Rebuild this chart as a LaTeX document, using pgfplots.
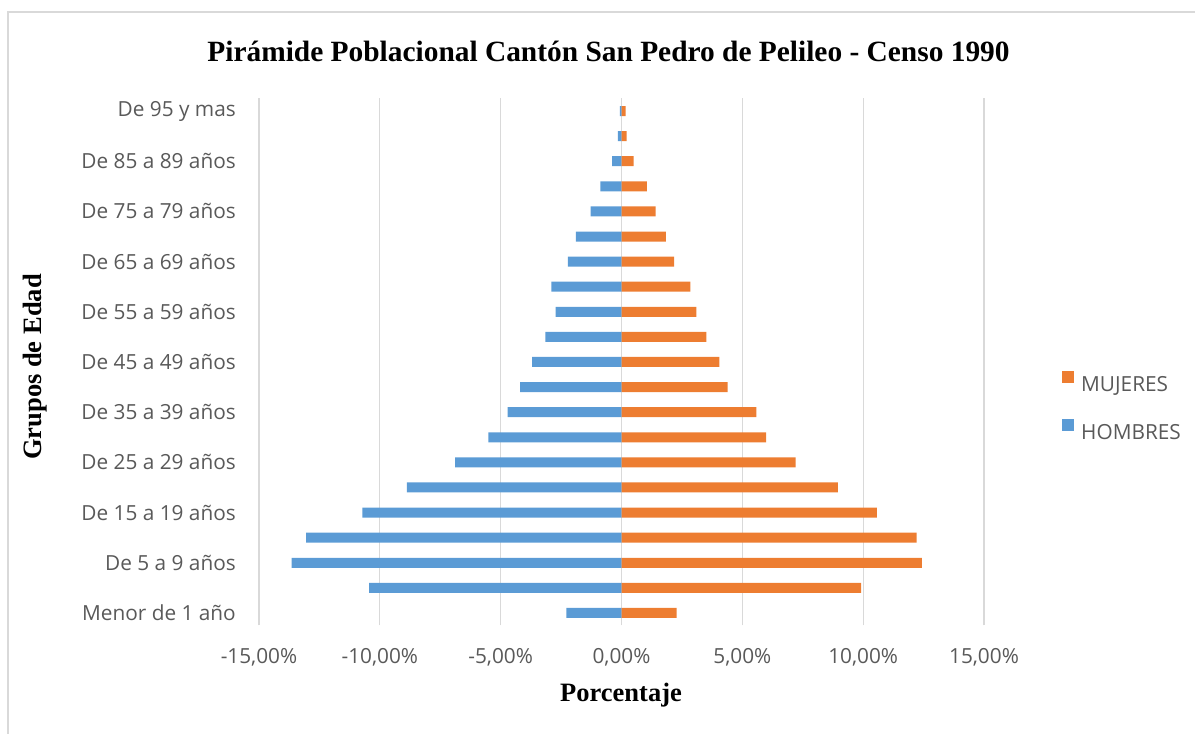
\documentclass[border=0pt]{standalone}
\usepackage{pgfplots}
\pgfplotsset{compat=1.18}
\usepackage{fontspec}
\setmainfont{Liberation Serif}
\newfontfamily\tickfont{Open Sans}
\definecolor{hblue}{HTML}{5B9BD5}
\definecolor{morange}{HTML}{ED7D31}
\definecolor{gridg}{HTML}{D9D9D9}
\definecolor{txtg}{HTML}{595959}

\pgfplotstableread{
idx hombres mujeres
0  -2.28  2.28
1  -10.44 9.92
2  -13.65 12.43
3  -13.05 12.21
4  -10.72 10.57
5  -8.88  8.95
6  -6.88  7.20
7  -5.51  5.98
8  -4.71  5.58
9  -4.20  4.39
10 -3.70  4.05
11 -3.15  3.51
12 -2.73  3.10
13 -2.90  2.85
14 -2.22  2.18
15 -1.89  1.84
16 -1.28  1.41
17 -0.87  1.05
18 -0.39  0.50
19 -0.15  0.21
20 -0.07  0.17
}\datatable

\begin{document}
\begin{tikzpicture}[x=1pt,y=1pt]
\path[use as bounding box] (0,0) rectangle (1195,734);
\draw[gridg, line width=1.3pt] (8,0) -- (8,722) -- (1195,722);
\node[font=\bfseries\fontsize{29.4}{33}\selectfont] at (608.5,683) {Pirámide Poblacional Cantón San Pedro de Pelileo - Censo 1990};
\node[font=\bfseries\fontsize{26.5}{30}\selectfont] at (621,39) {Porcentaje};
\node[font=\bfseries\fontsize{26.5}{30}\selectfont, rotate=90] at (35,367) {Grupos de Edad};
\begin{axis}[
  at={(259pt,108.5pt)}, anchor=south west,
  scale only axis, width=725pt, height=527pt,
  xbar, bar width=10pt, bar shift=0pt,
  xmin=-15, xmax=15, ymin=-0.5, ymax=20.5,
  axis line style={draw=none},
  major tick length=0pt,
  xtick={-15,-10,-5,0,5,10,15},
  xticklabels={{-15,00\%},{-10,00\%},{-5,00\%},{0,00\%},{5,00\%},{10,00\%},{15,00\%}},
  ytick={0,2,...,20},
  yticklabels={Menor de 1 año, De 5 a 9 años, De 15 a 19 años, De 25 a 29 años, De 35 a 39 años, De 45 a 49 años, De 55 a 59 años, De 65 a 69 años, De 75 a 79 años, De 85 a 89 años, De 95 y mas},
  xmajorgrids,
  grid style={gridg, line width=1.3pt},
  xticklabel style={font=\tickfont\fontsize{20.8}{24}\selectfont, text=txtg, inner sep=0pt, anchor=center, yshift=-32pt},
  yticklabel style={font=\tickfont\fontsize{20.8}{24}\selectfont, text=txtg, inner sep=0pt, anchor=east, xshift=-23pt},
  legend style={at={(1.1076,0.4175)}, anchor=west, draw=none, fill=none,
    font=\tickfont\fontsize{20.8}{24}\selectfont, text=txtg,
    row sep=28pt, inner sep=0pt,
    nodes={inner sep=0pt, text height=14pt, text depth=0pt}},
  legend cell align=left,
  reverse legend,
  legend image code/.code={\fill[#1] (0pt,1pt) rectangle (12pt,13pt);},
]
\addplot[fill=hblue, draw=none] table[x=hombres, y=idx] {\datatable};
\addlegendentry{\hspace{7pt}HOMBRES}
\addplot[fill=morange, draw=none] table[x=mujeres, y=idx] {\datatable};
\addlegendentry{\hspace{7pt}MUJERES}
\end{axis}
\end{tikzpicture}
\end{document}
